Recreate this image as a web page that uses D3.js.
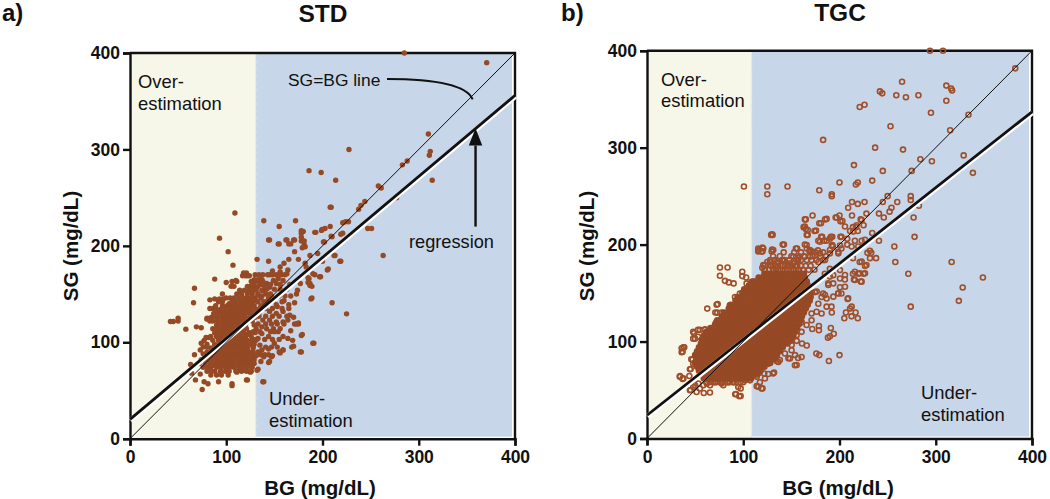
<!DOCTYPE html>
<html><head><meta charset="utf-8">
<script src="https://cdn.jsdelivr.net/npm/d3@7"></script>
<style>html,body{margin:0;padding:0;background:#fff}svg{display:block}text{font-family:"Liberation Sans",Arial,sans-serif;fill:#111}</style>
</head><body><svg id="c" width="1050" height="499"></svg>
<script>
const axisTicks = [0,100,200,300,400];
const stdBoundary = 130.5, tgcBoundary = 108.5;
const identityLine = [[0,0],[400,400]];
const stdRegression = [[0,20],[400,356]];
const tgcRegression = [[0,24],[400,337]];

const stdOutliers = [[285,400],[370.6,390],[310,316],[312,298],[311,294],[314,268],[288,288],[283,284],[227.5,300],[186,278],[198.6,276],[213.7,268],[258,262],[261,260],[208,240],[244,246],[240,242],[237.6,238],[277,250],[109,234],[139,226],[172,226],[155,220],[224,225],[221,224],[208,220],[199.5,217],[202.6,218],[192,214],[93,208],[247,218],[251,218],[219,212],[209,210],[144,206],[162,206],[170,206],[154,202],[165,202],[201,204],[178,215.6],[178,213],[180,215],[178,209],[178,205],[181,205],[181,201],[179,198],[182,199],[193,214],[199,216],[209,240],[210,209.5],[221,213],[227,225],[145,206],[155,202],[163,206],[167,202],[171,206],[171,194],[202,204],
[102,194],[107,180],[88,165.5],[100,162],[106,163],[110,164],[67,156],[66,141],[83,144],[42,121.5],[45,121.5],[50,125],[50,122],[58,113.6],[69,116],[74,115],[80,124],[83,122],[74,99],[77,102],[73,92],[67,87],[76,88],[63,77],[64,68],[68,61],[73,67],[75,51],[77,59],[81,57],[92,59],[106,57],[106,55],[121,61],[138,59],[132,71],[125,69],[144,79],[147,85],[139,85],[144,93],[155,90],[159,92],[177,90],[168,95],[169,102],[178,107],[190,99],[171,119],[175,119],[210,141],[225,129.5],[263,190],[188,145],[218,184],[205,175],[212,190],[197,168],[185,167],[185,162],[187,159],[190,171],
[132,186],[144,184],[160,182],[165,186],[175,186],[187,190],[195,192],[200,184],[213,190],[219,184],[206,176],[198,168],[186,166],[187,161],[189,158],[177,161],[192,170],[182,182],[183,178],[164,175],[156,178],[156,173],[148,174],[145,170],[154,166],[149,164],[142,161],[137,165],[131,164],[128,159],[131,156],[163,171],[159,164],[152,161],[145,157],[138,154],[133,149],[174,154],[173,150],[161,148],[189,146],[171,141],[165,139],[158,142],[152,139],[153,137],[145,132],[152,130],[159,132],[166,128],[170,126],[175,120],[173,119],[138,123],[145,123],[152,121],[159,121],[164,123],[137,116],[142,114],[149,114],[156,114],[167,112],[179,108],[191,99],[178,90],[170,96],[164,104],[159,106],[150,111],[144,106],[137,109],[133,104],[159,92],[156,89],[150,99],[147,95],[135,97],[137,92],[133,88],[140,87],[148,86],[145,80],[136,80],[133,72],[126,70],[122,61],[139,59],[128,81],[129,78],[121,74],[114,71],[111,69]];
const stdCoreRows = [
[172,[118,121]],[169,[117,120,122,124]],[165,[129,133,136]],[163,[111,126,130,134,138]],[158,[105,108,122,125,129,133,140]],
[154,[114,119,124,128,131,137]],[150,[96,111,116,122,127,133,141,146]],[146,[100,104,108,113,118,122,126,130,136,144]],
[142,[92,96,106,110,115,119,123,127,133,139]],[138,[89,96,101,105,110,113,117,121,125,129,136,141]],[134,[90,94,99,104,108,112,115,118,122,126,131]],
[130,[87,92,97,101,105,109,113,116,120,124,128,134]],[126,[85,90,95,99,103,107,110,114,117,120,125,130]],[122,[86,91,96,100,104,108,111,114,118,122,127]],
[118,[90,94,98,102,106,109,112,116,120,129]],[114,[86,90,95,99,103,107,110,113,117,121,131]],[110,[88,93,97,101,105,108,111,114,118,124,130]],
[106,[84,90,95,100,104,107,110,113,116,120,126]],[102,[86,92,97,101,105,108,111,114,117,122,127,131]],[98,[80,88,93,98,101,104,107,110,113,116,120,125,129]],
[94,[84,89,93,97,100,103,106,109,112,116,119,122,128]],[90,[80,85,90,94,97,100,103,106,109,112,115,120,124,128,133]],[86,[78,83,88,92,96,99,102,105,108,111,114,118,122,127,131]],
[82,[74,80,85,90,94,97,100,103,107,110,114,118,121,125,129]],[78,[72,78,83,88,92,96,100,103,107,112,116,120,124,128]],[74,[76,80,84,90,95,100,104,108,113,118,122,127]],
[70,[80,84,88,94,99,103,110,116,121]],[66,[84,90,95,102]],
[140,[103,108,112,116,120,124]],[132,[101,106,110,114,118,122]],[124,[98,102,106,112,116,121]],[116,[96,100,104,108,115,119]],[108,[92,99,103,106,110,116,122]],[100,[94,99,103,106,109,112,115,119]],[92,[87,91,95,99,102,105,108,111,114,118]],[84,[86,91,95,98,101,104,107,112,116,120]],[76,[87,93,98,102,106,110,115]],
[170,[130,134,138,143,148,152,157,161]],[160,[136,146,156,166]],[155,[142,150,156,163]],[148,[137,147,155,167]],[143,[130,143,149,160]],[135,[135,141,148,158,165]],[127,[134,141,148,155,163]],[119,[133,141,147,153,160]],[111,[128,135,146,154]],[103,[130,140,148,155]],[95,[128,141,153]],[87,[125,136,144]],[145,[88,93,97]],[135,[83,86]],[125,[80,83]],[105,[79,82]],[95,[76,80]]];

const tgcOutliers = [[294,400],[307.5,400],[382.6,381.8],[265,368],[311,364],[316,361],[317,359],[242,358],[244.4,356],[259,354],[269,352],[282,354],[311,348.4],[226,344.3],[221,342],[295,336],[334,334],[253,322],[315,318],[183,308],[237,300],[266,298],[329,292],[284,288],[296,286],[215,282],[275,276],[245,276],[338.6,274],[234,266],[200,264],[219,264],[217,262],[100.7,260],[125,260],[146,260],[125,252],[179,256],[192,252],[192,250],[250,250],[274,250],[274,246],[245,244],[260,244],[213,244],[226,244],[219,242],[209,238],[254,238],[252,234],[282.5,240],[228,232],[241,232],[246,228],[277,228],[172,230],[164,226],[185,226],[179,222],[196,228],[200,230],[201,224],[213,230],[222,226],[225,220],[214,218],[217,218],[162.7,218],[165,216],[174,214],[211,214],[219,214],[129,210],[130.5,210],[166,210],[234,212],[278,208],[181,208],[191,208],[201,208],[190,206],[208,206],[178,204],[184,204],[216,204],[241,204],[223,204],[141,200],[164,200],[193,198],[208,200],[257,198],
[258,182],[316.5,182],[271.5,170],[349,166],[328,155.8],[324,142],[274,136],[238,186],[226.5,178],[221,182],[233,191.5],[229,191.5],[225,170],[219.5,170],[214,170],[215,164],[222,162],[208.4,144],[212.6,136],[211,134],[206.7,130],[216.7,130],[205,124],[212.5,126],[219,124],[192,130],[186.6,136],[191.7,136],[191,114],[194,108],[190,105.5],[188,104],[176,87.6],[179,86],[189,80],[200,86],[153.7,75.6],[160.6,84],[157,83],[166,96],[161,98],[155.5,100.7],[178.6,116],[178.6,111.7],[171.7,113],[131,67],[119,51.5],[114,54],[117.3,58],[95.9,43.6],[91.7,45.7],[65.4,47.4],[59,47],[51.5,48],[44.6,49.8],[48,53],[34,63.6],[37,61.5],[36,93],[38.7,94],[36,89],[46,81.8],[44.6,71.5],[62.6,134],[72.3,138],[71,130],[75.8,176.4],[83.7,176.4],[75.8,167.8],[81,162.6],[85,161],[90,160],[99,172],[99,167.5],[103,166],[48,110],[53,112],[60,112],[48,103],
[115.6,193],[120,193],[129.5,193],[120.8,179],[125,182],[131,179],[136,181],[140.5,184],[122.5,174],[119.8,176],[146.8,179],[152,180.5],[157,184],[164,187.4],[169,192.6],[174.5,189],[178,182],[183,184],[190,191],[198.7,192.6],[190,175],[184.8,170],[193.5,168.5],[200.5,173.7],[205.6,164],[200.5,156],[193.5,160],[188.3,160],[202,149.5],[198.7,149.5],[181.4,146],[186.6,144.4],[183,149.6],[174.5,151],[178,139],[176.2,130.7],[181.4,129],[171,129],[171,122],[165.8,117],[160.6,120],[160.6,110],[155.5,106.6],[150,101],[150.2,91],[148.5,82.5],[143.3,87.6],[136.4,79],[126,77],[121.8,67],[115.6,67],[122.5,61.9],[101.8,60],[94.8,53],[84.4,58],[77.5,56.7],[70.6,58],[62,56.7],[55,51.5],[53.3,56.7],[115.6,196],[120,197],[130,195],[166,196],[154.7,196],[169,194],[177.6,194],[192,199],[219.5,198],[231.6,193.6],[200.5,199],[53,105],[58.5,103],[62,108],[67,101.4],[56.7,94.5],[51.5,86],[48,77],[55,75.6],[72,120],[77.5,123.8],[81,129],[86,137.5],[91.4,146],[96.5,149.6],[103.5,160],[108.7,161.6]];
const tgcFringe = [[73.4,138.7],[73,129.8],[77.6,129.8],[72.4,118.8],[70.6,117],[74,120.5],[48.8,108.5],[55,112],[60.3,112.6],[67,111.2],[50,103],[58.5,105],[63.7,103],[37.8,94],[37,89.6],[51,86],[47.4,81.6],[45.4,71.7],[44,64.4],[34.3,64.4],[37.8,62],[50,55],[45.4,50],[58.5,55],[65.5,55],[68.9,62],[79.3,55],[89.7,58],[98.4,62],[97.3,51.7],[92.5,45.9],[97.3,43.8],[115.7,53.4],[120,51.7],[132,68],[107,60],[114,63.8],[126,66.5],[138,81],[134.7,80],[146.9,82.7],[155.5,75.8],[153.8,86],[150.3,96.4],
[165,226],[180.8,222],[186.6,226.5],[197,228],[203,224.4],[164,218.6],[167,215],[175.6,214.4],[167,210],[130,210.6],[182,208],[192.5,208],[186.6,204],[179.7,203],[169.3,194.5],[172,192.8],[115.7,194.5],[120.8,196],[119,192.8],[131.2,194.5],[142.3,200],[156,196],[202,208],[192.5,199.6],[202,196],[198.8,191],[190,194.5],[179.7,191],[185,184],[169.3,187.6],[165.9,199.6],[122.6,179],[127.8,182],[134.7,182],[141.6,184],[148.5,180.7],[134.7,176],[121.9,174],[152,187.6],[157.2,186],[223,182.4],[228,179],[231.7,186],[216,172],[221,170.4],[226.5,170.4],[216,163.5],[223,161.8],[205.7,168.7],[200.5,165],[190,167],[205.7,156.6],[198.8,149.8],[193.6,146.3],[188.4,158.4],[209,144.6],[176.3,151.5],[185,148],[169.3,148],[214,186],[212.6,198],[226.5,205],[217.8,220],[223,225.4],[214.3,213.4],[205.7,218.6]];
const tgcLooseRows = [
[192,[142,153,160,175,183]],[188,[131,138,150,158,163,172,180,186]],[184,[128,133,143,148,155,160,166,171,176]],
[178,[129,133,136,140,143,147,150,154,156,160,165,170]],[174,[127,131,134,138,141,145,148,152,155,158,162,168,174]],
[58,[62,65,69,72,76,79,83,86,90,93,97,100]]];
const tgcDenseRows = [
[170,[122,126,129,133,136,140,143,147,150,154,157,160,163]],[166,[116,120,124,127,131,134,138,141,145,148,152,155,159,162,164]],
[162,[110,112,115,119,122,126,129,133,136,140,143,147,150,154,157,161,164,166]],[158,[106,110,113,117,120,124,127,131,134,138,141,145,148,152,155,159,162,165,167]],
[154,[101,105,108,112,115,119,122,126,129,133,136,140,143,147,150,154,157,161,164,168]],[150,[99,103,106,110,113,117,120,124,127,131,134,138,141,145,148,152,155,159,162,166,170]],
[146,[94,98,101,105,108,112,115,119,122,126,129,133,136,140,143,147,150,154,157,161,164,168,170]],[142,[92,96,99,103,106,110,113,117,120,124,127,131,134,138,141,145,148,152,155,159,162,166,169]],
[138,[87,91,94,98,101,105,108,112,115,119,122,126,129,133,136,140,143,147,150,154,157,161,164,167]],[134,[85,89,92,96,99,103,106,110,113,117,120,124,127,131,134,138,141,145,148,152,155,159,162,165]],
[130,[80,84,87,91,94,98,101,105,108,112,115,119,122,126,129,133,136,140,143,147,150,154,157,161,163]],[126,[78,82,85,89,92,96,99,103,106,110,113,117,120,124,127,131,134,138,141,145,148,152,155,159,161]],
[122,[73,77,80,84,87,91,94,98,101,105,108,112,115,119,122,126,129,133,136,140,143,147,150,154,157,160]],[118,[71,75,78,82,85,89,92,96,99,103,106,110,113,117,120,124,127,131,134,138,141,145,148,152,155,158]],
[114,[66,70,73,77,80,84,87,91,94,98,101,105,108,112,115,119,122,126,129,133,136,140,143,147,150,154,156]],[110,[62,64,68,71,75,78,82,85,89,92,96,99,103,106,110,113,117,120,124,127,131,134,138,141,145,148,152,154]],
[106,[59,63,66,70,73,77,80,84,87,91,94,98,101,105,108,112,115,119,122,126,129,133,136,140,143,147,150,152]],[102,[57,61,64,68,71,75,78,82,85,89,92,96,99,103,106,110,113,117,120,124,127,131,134,138,141,145,149]],
[98,[56,59,63,66,70,73,77,80,84,87,91,94,98,101,105,108,112,115,119,122,126,129,133,136,140,143,146]],[94,[54,57,61,64,68,71,75,78,82,85,89,92,96,99,103,106,110,113,117,120,124,127,131,134,138,141]],
[90,[52,56,59,63,66,70,73,77,80,84,87,91,94,98,101,105,108,112,115,119,122,126,129,133,136,138]],[86,[50,54,57,61,64,68,71,75,78,82,85,89,92,96,99,103,106,110,113,117,120,124,127,131,135]],
[82,[52,56,59,63,66,70,73,77,80,84,87,91,94,98,101,105,108,112,115,119,122,126,129,132]],[78,[50,54,57,61,64,68,71,75,78,82,85,89,92,96,99,103,106,110,113,117,120,124,128]],
[74,[52,56,59,63,66,70,73,77,80,84,87,91,94,98,101,105,108,112,115,119,122]],[70,[54,57,61,64,68,71,75,78,82,85,89,92,96,99,103,106,110,113,117,118]],
[66,[56,59,63,66,70,73,77,80,84,87,91,94,98,101,105,108,112,114]],[62,[59,63,66,70,73,77,80,84,87,91,94,98,101,105,108]]];

const rowsToPoints = rows => rows.flatMap(([y,xs])=>xs.map(x=>[x,y]));
const stdPoints = stdOutliers.concat(rowsToPoints(stdCoreRows));
const tgcPoints = tgcOutliers.concat(tgcFringe, rowsToPoints(tgcLooseRows));
const tgcDense = rowsToPoints(tgcDenseRows);

const svg = d3.select("#c");
const ink = "#111", brown = "#964925";
const FONT = '"Liberation Sans",Arial,sans-serif';

function panel(o){
  const x = d3.scaleLinear().domain([0,400]).range([o.x0,o.x1]);
  const y = d3.scaleLinear().domain([0,400]).range([o.y0,o.y1]);
  const g = svg.append("g");
  g.append("rect").attr("x",x(0)).attr("y",y(400)).attr("width",x(o.boundary)-x(0)).attr("height",y(0)-y(400)).attr("fill","#f7f7e9");
  g.append("rect").attr("x",x(o.boundary)).attr("y",y(400)).attr("width",x(400)-x(o.boundary)-3).attr("height",y(0)-y(400)-2).attr("fill","#c7d6e8");
  g.append("line").attr("x1",x(o.boundary)).attr("x2",x(o.boundary)).attr("y1",y(400)).attr("y2",y(0)).attr("stroke","#e6ebef").attr("stroke-width",1.5).attr("stroke-dasharray","4 3");
  g.append("path").attr("d",`M${x(0)},${y(400)}H${x(400)}V${y(0)}`).attr("fill","none").attr("stroke",ink).attr("stroke-width",2.4);
  const ax = d3.axisBottom(x).tickValues(axisTicks).tickSize(7).tickPadding(5).tickFormat(d3.format("d"));
  const ay = d3.axisLeft(y).tickValues(axisTicks).tickSize(7).tickPadding(3).tickFormat(d3.format("d"));
  [g.append("g").attr("transform",`translate(0,${y(0)})`).call(ax), g.append("g").attr("transform",`translate(${x(0)},0)`).call(ay)].forEach(a=>{
    a.selectAll("path,line").attr("stroke",ink).attr("stroke-width",2.4);
    a.selectAll("text").attr("font-size",17.5).attr("font-weight","bold").attr("fill",ink).style("font-family",FONT);
  });
  const dots = g.append("g").selectAll("circle").data(o.points).join("circle").attr("cx",d=>x(d[0])).attr("cy",d=>y(d[1]));
  if(o.open) dots.attr("r",2.5).attr("fill","none").attr("stroke","#a04f2b").attr("stroke-width",1.6);
  else dots.attr("r",2.7).attr("fill",brown);
  // saturated centre of the cloud: overlapping rings leave no hole visible
  g.append("g").selectAll("circle").data(o.dense||[]).join("circle").attr("cx",d=>x(d[0])).attr("cy",d=>y(d[1])).attr("r",3.3).attr("fill",brown);
  const line = d3.line().x(d=>x(d[0])).y(d=>y(d[1]));
  g.append("path").attr("d",line(o.regression)).attr("transform","translate(0.4,1)").attr("fill","none").attr("stroke","#fff").attr("stroke-width",5);
  g.append("path").attr("d",line(identityLine)).attr("fill","none").attr("stroke",ink).attr("stroke-width",1);
  g.append("path").attr("d",line(o.regression)).attr("fill","none").attr("stroke",ink).attr("stroke-width",2.8);
  return {x,y,g};
}
function label(t,px,py,size,weight,anchor,rot){
  const e = svg.append("text").text(t).attr("font-size",size).attr("font-weight",weight||"normal").attr("text-anchor",anchor||"start");
  if(rot) e.attr("transform",`translate(${px},${py}) rotate(${rot})`); else e.attr("x",px).attr("y",py);
}
const a = panel({x0:130,x1:515,y0:438.7,y1:53,boundary:stdBoundary,points:stdPoints,open:false,regression:stdRegression});
const b = panel({x0:647,x1:1032,y0:438.5,y1:50.7,boundary:tgcBoundary,points:tgcPoints,dense:tgcDense,open:true,regression:tgcRegression});

label("a)",2,21,24,"bold");
label("STD",323,22,24.5,"bold","middle");
label("b)",561,21,24,"bold");
label("TGC",840,21,24.5,"bold","middle");
label("BG (mg/dL)",320,495,20.5,"bold","middle");
label("BG (mg/dL)",838,495,20.5,"bold","middle");
label("SG (mg/dL)",77.5,246,20.5,"bold","middle",-90);
label("SG (mg/dL)",594,246,20.5,"bold","middle",-90);
label("Over-",138,88,18.4);label("estimation",138,110,18.4);
label("Under-",269,405,18.4);label("estimation",269,427,18.4);
label("Over-",661,86,18.4);label("estimation",661,107,18.4);
label("Under-",921,399,18.4);label("estimation",921,421,18.4);
label("SG=BG line",288,86,17.4);
label("regression",409,248,18.2);

const curve = [[267,373],[312,373],[349,368],[356,352]];
a.g.append("path").attr("d",`M${a.x(curve[0][0])},${a.y(curve[0][1])}C${a.x(curve[1][0])},${a.y(curve[1][1])} ${a.x(curve[2][0])},${a.y(curve[2][1])} ${a.x(curve[3][0])},${a.y(curve[3][1])}`).attr("fill","none").attr("stroke",ink).attr("stroke-width",2);
const arrow = {x:359,from:220,to:322,base:304,half:7};
a.g.append("line").attr("x1",a.x(arrow.x)).attr("x2",a.x(arrow.x)).attr("y1",a.y(arrow.from)).attr("y2",a.y(arrow.base)).attr("stroke",ink).attr("stroke-width",2.4);
a.g.append("path").attr("d",`M${a.x(arrow.x)},${a.y(arrow.to)}L${a.x(arrow.x-arrow.half)},${a.y(arrow.base)}H${a.x(arrow.x+arrow.half)}Z`).attr("fill",ink);
</script></body></html>
